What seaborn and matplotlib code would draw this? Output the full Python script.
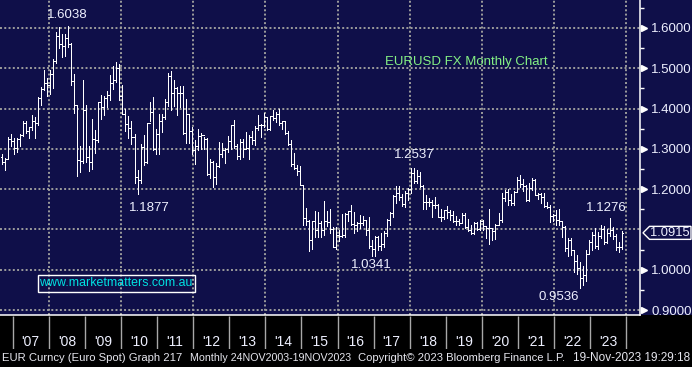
import numpy as np
import pandas as pd
import matplotlib
matplotlib.use("Agg")
import matplotlib.pyplot as plt
import matplotlib.transforms as mtrans
from matplotlib.patches import Rectangle, Polygon
import seaborn as sns

# ---------------- data (monthly EURUSD, Sep 2006 .. Nov 2023) ----------------
start_year, start_month = 2006, 9
first_open = 1.2810

highs = [
    1.2875, 1.2780, 1.3290, 1.3367,
    1.3280, 1.3260, 1.3372, 1.3682, 1.3680, 1.3538, 1.3852, 1.3780, 1.4282, 1.4527, 1.4967, 1.4760,
    1.4966, 1.5238, 1.5905, 1.6019, 1.5844, 1.5843, 1.6038, 1.5619, 1.4866, 1.4080, 1.3080, 1.4719,
    1.4090, 1.3063, 1.3738, 1.3470, 1.4152, 1.4338, 1.4306, 1.4446, 1.4845, 1.5063, 1.5144, 1.5100,
    1.4580, 1.3990, 1.3820, 1.3695, 1.3370, 1.2485, 1.3110, 1.3334, 1.3650, 1.4157, 1.4280, 1.3500,
    1.3860, 1.3862, 1.4250, 1.4880, 1.4940, 1.4700, 1.4540, 1.4550, 1.4550, 1.4247, 1.3870, 1.3550,
    1.3230, 1.3485, 1.3385, 1.3285, 1.3280, 1.2745, 1.2690, 1.2640, 1.3170, 1.3140, 1.3010, 1.3308,
    1.3580, 1.3711, 1.3130, 1.3240, 1.3240, 1.3420, 1.3345, 1.3450, 1.3570, 1.3830, 1.3620, 1.3893,
    1.3775, 1.3825, 1.3967, 1.3905, 1.3993, 1.3700, 1.3700, 1.3440, 1.3220, 1.2890, 1.2600, 1.2570,
    1.2100, 1.1535, 1.1240, 1.1215, 1.1467, 1.1436, 1.1210, 1.1714, 1.1460, 1.1495, 1.1050, 1.1060,
    1.0990, 1.1375, 1.1400, 1.1465, 1.1615, 1.1430, 1.1185, 1.1365, 1.1325, 1.1240, 1.1300, 1.0750,
    1.0830, 1.0830, 1.0906, 1.0950, 1.1270, 1.1445, 1.1850, 1.2070, 1.2090, 1.1880, 1.1960, 1.2020,
    1.2537, 1.2530, 1.2476, 1.2415, 1.2100, 1.1850, 1.1790, 1.1735, 1.1815, 1.1625, 1.1500, 1.1485,
    1.1570, 1.1490, 1.1450, 1.1325, 1.1265, 1.1410, 1.1410, 1.1250, 1.1110, 1.1180, 1.1180, 1.1240,
    1.1240, 1.1050, 1.1500, 1.1040, 1.1140, 1.1420, 1.1910, 1.1970, 1.2010, 1.1880, 1.1960, 1.2310,
    1.2350, 1.2240, 1.2110, 1.2150, 1.2270, 1.2250, 1.1910, 1.1900, 1.1910, 1.1690, 1.1610, 1.1380,
    1.1480, 1.1500, 1.1190, 1.1080, 1.0790, 1.0780, 1.0480, 1.0370, 1.0200, 1.0090, 1.0500, 1.0740,
    1.0930, 1.1030, 1.0930, 1.1100, 1.1090, 1.1010, 1.1276, 1.1060, 1.0880, 1.0700, 1.0965,
]
lows = [
    1.2625, 1.2485, 1.2750, 1.3080,
    1.2866, 1.2930, 1.3080, 1.3318, 1.3404, 1.3265, 1.3476, 1.3260, 1.3590, 1.4098, 1.4450, 1.4300,
    1.4365, 1.4500, 1.5130, 1.5515, 1.5282, 1.5303, 1.5520, 1.4575, 1.3880, 1.2330, 1.2420, 1.2660,
    1.2662, 1.2457, 1.2510, 1.2885, 1.3169, 1.3743, 1.3832, 1.4047, 1.4213, 1.4480, 1.4650, 1.4220,
    1.3860, 1.3445, 1.3265, 1.3115, 1.2143, 1.1877, 1.2150, 1.2590, 1.2660, 1.3690, 1.2970, 1.2870,
    1.2860, 1.3430, 1.3750, 1.4060, 1.3970, 1.4070, 1.3840, 1.4050, 1.3360, 1.3150, 1.3150, 1.2860,
    1.2624, 1.2975, 1.3000, 1.3000, 1.2362, 1.2288, 1.2042, 1.2130, 1.2560, 1.2800, 1.2660, 1.2910,
    1.3000, 1.3030, 1.2745, 1.2745, 1.2796, 1.3000, 1.2755, 1.3130, 1.3100, 1.3480, 1.3295, 1.3540,
    1.3480, 1.3478, 1.3705, 1.3673, 1.3590, 1.3503, 1.3366, 1.3105, 1.2570, 1.2500, 1.2358, 1.2100,
    1.1098, 1.1100, 1.0462, 1.0520, 1.0820, 1.0820, 1.0810, 1.0850, 1.1087, 1.0900, 1.0560, 1.0520,
    1.0710, 1.0810, 1.0820, 1.1210, 1.1100, 1.0912, 1.0950, 1.1045, 1.1120, 1.0850, 1.0550, 1.0352,
    1.0341, 1.0494, 1.0500, 1.0570, 1.0840, 1.1120, 1.1310, 1.1660, 1.1720, 1.1570, 1.1550, 1.1720,
    1.1915, 1.2150, 1.2155, 1.2055, 1.1510, 1.1510, 1.1575, 1.1300, 1.1525, 1.1300, 1.1215, 1.1270,
    1.1290, 1.1235, 1.1175, 1.1110, 1.1105, 1.1180, 1.1030, 1.0960, 1.0880, 1.0880, 1.0980, 1.0980,
    1.0990, 1.0780, 1.0640, 1.0730, 1.0760, 1.1100, 1.1190, 1.1700, 1.1610, 1.1610, 1.1600, 1.1920,
    1.2050, 1.1950, 1.1700, 1.1700, 1.1980, 1.1850, 1.1750, 1.1660, 1.1560, 1.1520, 1.1190, 1.1220,
    1.1120, 1.1110, 1.0800, 1.0470, 1.0350, 1.0360, 0.9950, 0.9900, 0.9536, 0.9630, 0.9730, 1.0390,
    1.0480, 1.0530, 1.0520, 1.0790, 1.0640, 1.0660, 1.0830, 1.0770, 1.0490, 1.0450, 1.0520,
]
closes = [
    1.2672, 1.2760, 1.3250, 1.3197,
    1.3027, 1.3236, 1.3354, 1.3650, 1.3450, 1.3540, 1.3690, 1.3650, 1.4268, 1.4487, 1.4636, 1.4590,
    1.4859, 1.5181, 1.5792, 1.5601, 1.5548, 1.5753, 1.5597, 1.4672, 1.4087, 1.2720, 1.2690, 1.3970,
    1.2808, 1.2669, 1.3251, 1.3232, 1.4152, 1.4034, 1.4252, 1.4338, 1.4636, 1.4720, 1.5000, 1.4321,
    1.3867, 1.3628, 1.3510, 1.3296, 1.2294, 1.2238, 1.3046, 1.2680, 1.3631, 1.3921, 1.2990, 1.3380,
    1.3695, 1.3803, 1.4160, 1.4808, 1.4395, 1.4500, 1.4395, 1.4385, 1.3390, 1.3865, 1.3440, 1.2960,
    1.3080, 1.3320, 1.3342, 1.3240, 1.2370, 1.2665, 1.2310, 1.2580, 1.2860, 1.2960, 1.2990, 1.3190,
    1.3580, 1.3060, 1.2820, 1.3170, 1.3000, 1.3010, 1.3300, 1.3220, 1.3525, 1.3580, 1.3590, 1.3790,
    1.3485, 1.3810, 1.3770, 1.3870, 1.3635, 1.3690, 1.3390, 1.3130, 1.2630, 1.2525, 1.2450, 1.2100,
    1.1290, 1.1200, 1.0730, 1.1220, 1.0990, 1.1150, 1.0980, 1.1210, 1.1180, 1.1000, 1.0570, 1.0860,
    1.0830, 1.0870, 1.1380, 1.1450, 1.1130, 1.1100, 1.1170, 1.1160, 1.1240, 1.0980, 1.0590, 1.0520,
    1.0800, 1.0580, 1.0650, 1.0900, 1.1240, 1.1420, 1.1840, 1.1910, 1.1810, 1.1640, 1.1900, 1.2000,
    1.2410, 1.2190, 1.2320, 1.2080, 1.1690, 1.1680, 1.1690, 1.1600, 1.1600, 1.1310, 1.1310, 1.1470,
    1.1440, 1.1370, 1.1220, 1.1210, 1.1170, 1.1370, 1.1070, 1.0990, 1.0900, 1.1150, 1.1020, 1.1210,
    1.1090, 1.1030, 1.1030, 1.0950, 1.1100, 1.1230, 1.1780, 1.1940, 1.1720, 1.1650, 1.1930, 1.2220,
    1.2140, 1.2070, 1.1730, 1.2020, 1.2230, 1.1860, 1.1870, 1.1810, 1.1580, 1.1560, 1.1340, 1.1370,
    1.1240, 1.1220, 1.1070, 1.0540, 1.0730, 1.0480, 1.0220, 1.0050, 0.9800, 0.9880, 1.0400, 1.0700,
    1.0860, 1.0580, 1.0840, 1.1020, 1.0690, 1.0910, 1.0990, 1.0840, 1.0570, 1.0570, 1.0915,
]

year_labels = ["'07", "'08", "'09", "'10", "'11", "'12", "'13", "'14", "'15",
               "'16", "'17", "'18", "'19", "'20", "'21", "'22", "'23"]
price_ticks = [0.9, 1.0, 1.1, 1.2, 1.3, 1.4, 1.5, 1.6]
extreme_labels = ["1.6038", "1.1877", "1.0341", "1.2537", "0.9536", "1.1276"]
extreme_kinds = ["high", "low", "low", "high", "low", "high"]
title_text = "EURUSD FX Monthly Chart"
watermark = "www.marketmatters.com.au"
last_price = "1.0915"
footer_parts = ["EUR Curncy (Euro Spot) Graph 217", "Monthly 24NOV2003-19NOV2023",
                "Copyright\u00a9 2023 Bloomberg Finance L.P.", "19-Nov-2023 19:29:18"]

# ---------------- frame ----------------
n = len(closes)
opens = [first_open] + closes[:-1]
df = pd.DataFrame({"open": opens, "high": highs[:n], "low": lows[:n], "close": closes})
df["t"] = start_year + (start_month - 1 + 0.5 + np.arange(n)) / 12.0

# ---------------- style ----------------
sns.set_theme(style="dark")
plt.rcParams["font.family"] = ["Liberation Sans", "DejaVu Sans"]

W, H = 692, 367
NAVY = "#0f0f49"
GRID = "#9c9c9c"
TXT = "#eef0ff"

fig = plt.figure(figsize=(W / 100, H / 100), dpi=100)
fig.patch.set_facecolor("black")

def fx(x):
    return x / W

def fy(y):
    return 1 - y / H

plot_bottom = 315
fig.patches.append(Rectangle((0, fy(plot_bottom)), 1, 1 - fy(plot_bottom),
                             transform=fig.transFigure, facecolor=NAVY,
                             edgecolor="none", zorder=-5))

ax = fig.add_axes([0, fy(plot_bottom), fx(640), 1 - fy(plot_bottom)])
ax.set_facecolor(NAVY)
ax.set_xlim(2006.649, 2024.378)
ax.set_ylim(0.8876, 1.6695)

lp = float(last_price)

# grid
ax.set_xticks(np.arange(2008, 2025, 2))
ax.set_yticks(price_ticks)
ax.set_yticks(np.arange(0.95, 1.66, 0.1), minor=True)
ax.grid(True, which="major", color=GRID, linestyle=(0, (1, 1.2)), linewidth=1.4)
ax.tick_params(axis="x", length=0, labelbottom=False)
ax.yaxis.tick_right()
# the label nearest the last-price tag is hidden behind it
shown = [abs(v - lp) > 0.03 for v in price_ticks]
ax.set_yticklabels([f"{v:.4f}" if s else "" for v, s in zip(price_ticks, shown)])
ax.tick_params(axis="y", which="major", length=0, pad=8, labelsize=9.5,
               labelcolor=TXT, right=True, left=False)
ax.tick_params(axis="y", which="minor", length=3, width=1, color="white",
               direction="out", right=True, left=False)
for s in ["top", "left"]:
    ax.spines[s].set_visible(False)
for s in ["right", "bottom"]:
    ax.spines[s].set_visible(True)
    ax.spines[s].set_color("white")
    ax.spines[s].set_linewidth(1.1)

# arrow markers on the price axis
blend = mtrans.blended_transform_factory(ax.transAxes, ax.transData)
arrow_vals = [v for v, s in zip(price_ticks, shown) if s]
ax.plot([1.007] * len(arrow_vals), arrow_vals, linestyle="none", marker=">",
        markersize=5, color="white", transform=blend, clip_on=False, zorder=5)

# OHLC bars
half = 0.42 / 12
ax.vlines(df["t"], df["low"], df["high"], color="white", linewidth=0.72,
          antialiased=False, zorder=3)
ax.hlines(df["open"], df["t"] - half, df["t"], color="white", linewidth=0.72,
          antialiased=False, zorder=3)
ax.hlines(df["close"], df["t"], df["t"] + half, color="white", linewidth=0.72,
          antialiased=False, zorder=3)

# extreme annotations
offsets = {"1.6038": (-1, 11), "1.1877": (12, -14), "1.0341": (-4, -9),
           "1.2537": (3, 13), "0.9536": (-21, -9), "1.1276": (-3, 10)}
for lab, kind in zip(extreme_labels, extreme_kinds):
    v = float(lab)
    col = df["high"] if kind == "high" else df["low"]
    i = int(np.argmin(np.abs(col.values - v)))
    dx, dy = offsets[lab]
    ax.annotate(lab, (df["t"].iloc[i], v), xytext=(dx, dy), textcoords="offset pixels",
                ha="center", va="center", color=TXT, fontsize=9.5, zorder=6)

# title & watermark
fig.text(fx(385), fy(62), title_text, color="#84f084", fontsize=9.5,
         ha="left", va="center")
fig.patches.append(Rectangle((fx(37.5), fy(292.3)), fx(194.5) - fx(37.5),
                             fy(274.7) - fy(292.3), transform=fig.transFigure,
                             facecolor="none", edgecolor="white", linewidth=1.0, zorder=5))
wm = fig.text(fx(116), fy(283.5), watermark, color="#00e2e2", fontsize=9.8,
              ha="center", va="center", zorder=6)

# last price tag
fb = mtrans.blended_transform_factory(fig.transFigure, ax.transData)
hh = 6.5 / 402.86
tag = Polygon([(fx(643), lp), (fx(649.5), lp + hh), (fx(691), lp + hh),
               (fx(691), lp - hh), (fx(649.5), lp - hh)], closed=True,
              transform=fb, facecolor=NAVY, edgecolor="white", linewidth=1.0,
              clip_on=False, zorder=7)
fig.patches.append(tag)
fig.text(fx(670), lp, last_price, transform=fb, color=TXT, fontsize=9.3,
         ha="center", va="center", zorder=8)

# year strip
axb = fig.add_axes([0, fy(349), fx(640), fy(316) - fy(349)])
axb.set_facecolor("black")
axb.set_xlim(ax.get_xlim())
axb.set_ylim(0, 1)
axb.axis("off")
axb.vlines(np.arange(2007, 2025), 0, 1, color="#a8a8a8", linewidth=1.0)
for k, lab in enumerate(year_labels):
    axb.text(2007.5 + k, 0.22, lab, color=TXT, fontsize=10, ha="center", va="center")

# footer: fit each piece into its measured span
footer_x0 = [2, 190, 358, 573]
footer_x1 = [182, 350, 565, 690]
renderer = fig.canvas.get_renderer()
for x0, x1, txt in zip(footer_x0, footer_x1, footer_parts):
    t = fig.text(fx(x0), fy(358), txt, color="#e6e6ee", fontsize=9.3,
                 ha="left", va="center")
    w = t.get_window_extent(renderer).width
    t.set_fontsize(9.3 * (x1 - x0) / w)

# watermark fit into its box
w = wm.get_window_extent(renderer).width
wm.set_fontsize(9.8 * 153 / w)

fig.savefig("out.png", dpi=100, facecolor=fig.get_facecolor())
